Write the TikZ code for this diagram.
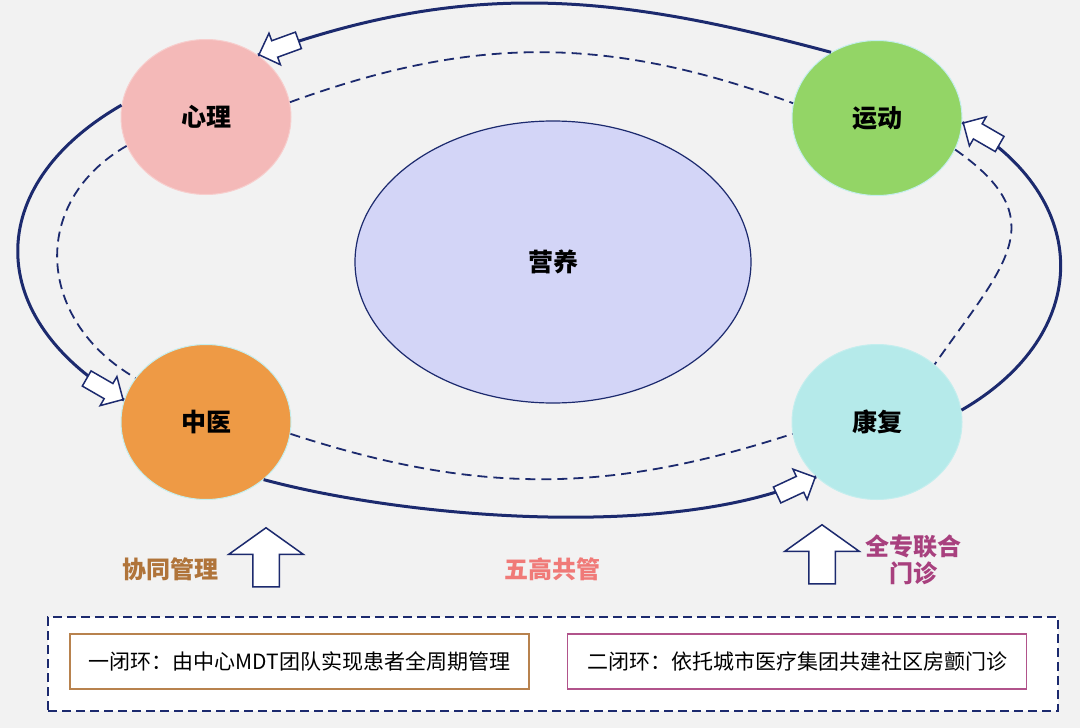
\documentclass[tikz,border=0pt]{standalone}
\usepackage{fontspec}
\setmainfont{Noto Sans CJK SC}
\usepackage{tikz}
\usetikzlibrary{shapes.geometric, shapes.arrows}

\definecolor{navy}{HTML}{1C2A6E}
\definecolor{bggray}{HTML}{F2F2F2}
\definecolor{xlpink}{HTML}{F4B9B8}
\definecolor{ydgreen}{HTML}{93D566}
\definecolor{zyorange}{HTML}{EE9A45}
\definecolor{kfcyan}{HTML}{B5EAEA}
\definecolor{yylav}{HTML}{D3D5F7}
\definecolor{xtbrown}{HTML}{B0743A}
\definecolor{wgsalmon}{HTML}{F07A78}
\definecolor{qzpurple}{HTML}{A8407E}

\begin{document}
\begin{tikzpicture}[x=1pt, y=-1pt]
\tikzstyle{organ} = [ellipse, minimum width=170pt, minimum height=155pt, text centered, draw=kfcyan!80!white, line width=1pt, font=\fontsize{25}{30}\selectfont\bfseries]
\tikzstyle{loop} = [draw=navy, line width=3pt]
\tikzstyle{inner} = [draw=navy, line width=1.8pt, dash pattern=on 10pt off 6pt]
\tikzstyle{tip} = [single arrow, draw=navy, fill=white, line width=1.5pt, inner xsep=0pt, inner ysep=8pt, minimum height=42pt, single arrow head extend=8pt, single arrow tip angle=90, pos=1, sloped, allow upside down, anchor=tip]
\tikzstyle{uparrow} = [single arrow, draw=navy, fill=white, line width=1.5pt, inner xsep=0pt, inner ysep=12.5pt, rotate=90, minimum height=59pt, single arrow head extend=24pt, single arrow tip angle=109]
\tikzstyle{tag} = [font=\fontsize{24}{27}\selectfont\bfseries, align=center]
\tikzstyle{loopbox} = [rectangle, fill=white, line width=1.5pt, minimum width=459pt, minimum height=55pt, font=\fontsize{21}{24}\selectfont]

\useasboundingbox (0,0) rectangle (1080,728);
\fill [bggray] (0,0) rectangle (1080,728);

% the five fields
\node (YY) [ellipse, draw=navy, line width=1.2pt, fill=yylav, minimum width=396pt, minimum height=282pt, font=\fontsize{25}{30}\selectfont\bfseries] at (553,262) {营养};
\node (XL) [organ, fill=xlpink, draw=xlpink!70!white] at (206,117) {心理};
\node (YD) [organ, fill=ydgreen] at (877,118) {运动};
\node (ZY) [organ, fill=zyorange] at (206,422) {中医};
\node (KF) [organ, fill=kfcyan] at (877,422) {康复};

% inner dashed loop
\draw [inner] (XL.10) to[out=20, in=160] (YD.170);
\draw [inner] (XL.200) to[out=210, in=150, looseness=1.25] (ZY.148);
\draw [inner] (ZY.-8) to[out=-18, in=198] (KF.188);
\draw [inner] (YD.-22) to[out=-35, in=55, looseness=1.45] (KF.45);

% outer solid loop
\draw [loop] (YD.125) to[out=165, in=20] node[tip] {} (XL.50);
\draw [loop] (XL.172) to[out=210, in=150, looseness=1.4] node[tip] {} (ZY.165);
\draw [loop] (ZY.-45) to[out=-15, in=205, looseness=0.7] node[tip] {} (KF.222);
\draw [loop] (KF.8) to[out=30, in=-30, looseness=1.35] node[tip] {} (YD.-3);

% bottom arrows and labels
\node (UP1) [uparrow] at (266,562) {};
\node (UP2) [uparrow] at (822,559) {};
\node (XT) [tag, text=xtbrown] at (170,569) {协同管理};
\node (WG) [tag, text=wgsalmon] at (552,569) {五高共管};
\node (QZ) [tag, text=qzpurple] at (913,560) {全专联合\\门诊};

% legend
\node (LEG) [rectangle, fill=white, draw=navy, line width=2.5pt, dash pattern=on 9pt off 5pt, minimum width=1010pt, minimum height=94pt] at (553,664) {};
\node (L1) [loopbox, draw=xtbrown!90!white] at (299.5,661.5) {一闭环：由中心MDT团队实现患者全周期管理};
\node (L2) [loopbox, draw=qzpurple!90!white] at (797,661.5) {二闭环：依托城市医疗集团共建社区房颤门诊};

\end{tikzpicture}
\end{document}
